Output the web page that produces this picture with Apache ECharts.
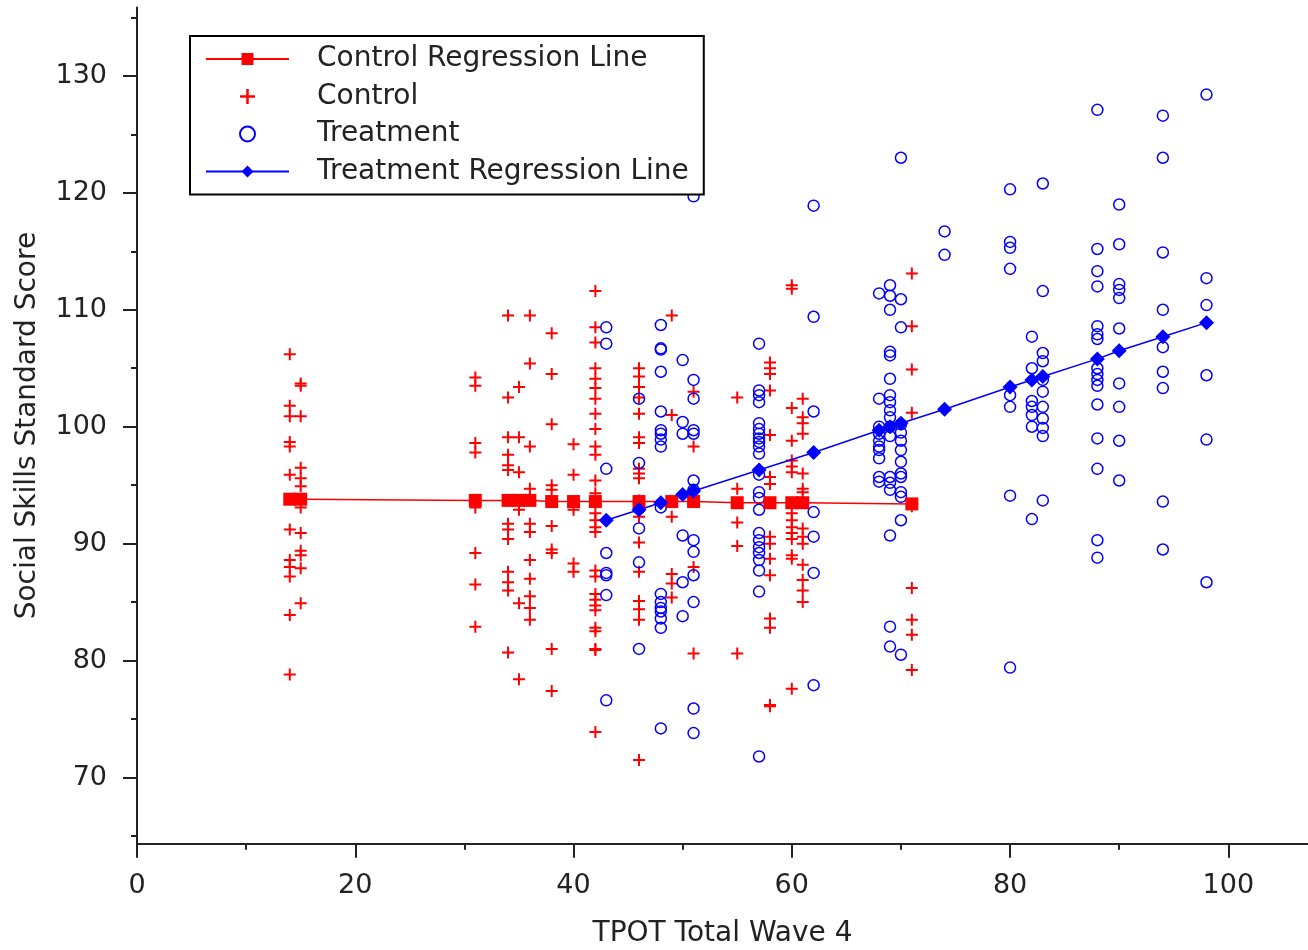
<!DOCTYPE html>
<html>
<head>
<meta charset="utf-8">
<title>Social Skills vs TPOT</title>
<script src="https://cdn.jsdelivr.net/npm/echarts@6.0.0/dist/echarts.min.js"></script>
<style>
  html, body { margin: 0; background: #fff; }
  #chart { width: 1308px; height: 950px; }
</style>
</head>
<body>
<div id="chart"></div>
<script>
// control scores, grouped by TPOT value: [x, [y...]]
const controlCols = [
  [14, [106.2, 101.8, 100.9, 98.7, 98.3, 95.9, 91.2, 88.6, 88.0, 87.2, 83.9, 78.8]],
  [15, [103.7, 103.5, 100.9, 96.5, 95.6, 94.9, 93.1, 90.9, 89.4, 89.0, 87.9, 84.9]],
  [31, [104.2, 103.5, 98.6, 97.8, 93.1, 89.2, 86.5, 82.9]],
  [34, [109.5, 102.5, 99.1, 97.6, 96.7, 96.3, 91.7, 91.2, 90.4, 87.6, 86.7, 86.0, 80.7]],
  [35, [103.4, 99.1, 96.1, 92.9, 84.9, 78.4]],
  [36, [109.5, 105.4, 98.3, 94.7, 91.7, 91.0, 88.6, 87.0, 85.5, 84.5, 83.5]],
  [38, [108.0, 104.5, 100.2, 95.0, 94.6, 91.5, 89.5, 89.2, 81.0, 77.4]],
  [40, [98.5, 95.9, 92.9, 88.3, 87.6]],
  [42, [111.6, 108.5, 107.2, 105.0, 104.1, 103.3, 102.4, 101.1, 99.8, 98.3, 97.6, 95.4, 94.3,
        92.6, 92.0, 91.4, 91.0, 87.7, 87.2, 85.7, 85.2, 84.7, 84.3, 82.8, 82.5, 81.0, 80.9, 73.9]],
  [46, [105.0, 104.3, 103.4, 102.5, 101.1, 99.1, 98.6, 96.4, 96.0, 95.6, 93.7, 92.3, 90.1,
        87.6, 85.1, 84.4, 83.5, 71.5]],
  [49, [109.5, 101.0, 92.3, 87.4, 86.6, 85.4]],
  [51, [103.0, 98.3, 88.0, 80.6]],
  [55, [102.5, 94.7, 91.8, 89.8, 80.6]],
  [58, [105.5, 105.0, 104.5, 103.1, 99.3, 95.7, 95.1, 90.6, 90.0, 88.7, 87.3, 83.6, 82.8, 76.2, 76.1]],
  [60, [112.1, 111.8, 101.6, 98.8, 97.1, 96.6, 96.1, 92.6, 92.0, 91.4, 90.9, 90.4, 89.0, 88.7, 77.6]],
  [61, [102.4, 100.8, 100.3, 99.4, 96.0, 94.7, 94.4, 91.3, 90.6, 90.0, 88.2, 86.9, 86.0, 85.0]],
  [71, [113.1, 108.6, 104.9, 101.2, 93.2, 86.2, 83.5, 82.2, 79.2]]
];

const treatmentCols = [
  [43, [108.5, 107.1, 96.4, 89.2, 87.5, 87.3, 85.6, 76.6]],
  [46, [102.4, 96.9, 93.0, 91.3, 88.4, 81.0]],
  [48, [108.7, 106.7, 106.6, 104.7, 101.3, 99.7, 99.4, 98.9, 98.3, 93.1, 85.7, 85.0, 84.5,
        84.2, 83.6, 82.8, 74.2]],
  [50, [105.7, 100.4, 99.4, 90.7, 86.7, 83.8]],
  [51, [119.7, 104.0, 102.4, 99.7, 99.4, 95.4, 94.6, 90.3, 89.3, 87.3, 85.0, 75.9, 73.8]],
  [57, [107.1, 103.1, 102.7, 102.1, 100.3, 99.8, 99.4, 99.0, 98.7, 98.3, 97.7, 95.9, 94.4,
        93.9, 92.9, 90.9, 90.3, 89.7, 89.2, 88.6, 87.7, 85.9, 71.8]],
  [62, [118.9, 109.4, 101.3, 92.7, 90.6, 87.5, 77.9]],
  [68, [111.4, 102.4, 100.0, 99.4, 98.8, 98.3, 98.0, 97.3, 95.7, 95.3]],
  [69, [112.1, 111.2, 110.0, 106.4, 106.1, 104.1, 102.7, 102.1, 101.4, 100.8, 100.0, 99.2,
        95.7, 95.2, 94.6, 90.7, 82.9, 81.2]],
  [70, [123.0, 110.9, 108.5, 100.2, 99.5, 98.8, 98.0, 97.0, 96.0, 95.7, 94.4, 94.0, 92.0, 80.5]],
  [74, [116.7, 114.7]],
  [80, [120.3, 115.8, 115.3, 113.5, 102.7, 101.7, 94.1, 79.4]],
  [82, [107.7, 105.0, 102.2, 101.7, 101.0, 100.0, 92.1]],
  [83, [120.8, 111.6, 106.3, 105.6, 104.0, 103.0, 101.7, 100.7, 99.9, 99.2, 93.7]],
  [88, [127.1, 115.2, 113.3, 112.0, 108.6, 107.9, 107.5, 105.0, 104.5, 104.0, 103.5, 101.9,
        99.0, 96.4, 90.3, 88.8]],
  [90, [119.0, 115.6, 112.2, 111.7, 111.0, 108.4, 103.7, 101.7, 98.8, 95.4]],
  [94, [126.6, 123.0, 114.9, 110.0, 106.8, 104.7, 103.3, 93.6, 89.5]],
  [98, [128.4, 112.7, 110.4, 104.4, 98.9, 86.7]]
];

// fitted values
const controlFitX = [14, 15, 31, 34, 35, 36, 38, 40, 42, 46, 49, 51, 55, 58, 60, 61, 71];
const controlFitY = [93.8, 93.8, 93.7, 93.7, 93.7, 93.7, 93.6, 93.6, 93.6, 93.6, 93.6, 93.6,
                     93.5, 93.5, 93.5, 93.5, 93.4];
const treatFitX = [43, 46, 48, 50, 51, 57, 62, 68, 69, 70, 74, 80, 82, 83, 88, 90, 94, 98];
const treatFitY = [92.0, 92.9, 93.5, 94.2, 94.5, 96.3, 97.8, 99.7, 100.0, 100.3, 101.5,
                   103.4, 104.0, 104.3, 105.8, 106.5, 107.7, 108.9];

const xMajor = [0, 20, 40, 60, 80, 100];
const xMinor = [10, 30, 50, 70, 90];
const yMajor = [70, 80, 90, 100, 110, 120, 130];
const yMinor = [65, 75, 85, 95, 105, 115, 125, 135];

const FONT = 'DejaVu Sans';
const TEXT = '#222';
const AXIS = '#222';
const RED = '#ff0000';
const BLUE = '#0000ff';
const X_MAX = 107.3, Y_MIN = 64.34, Y_MAX = 135.85;

const flatten = cols => cols.reduce((acc, [x, ys]) => acc.concat(ys.map(y => [x, y])), []);
const zip = (xs, ys) => xs.map((x, i) => [x, ys[i]]);

const plusPath = 'path://M5,0H7V5H12V7H7V12H5V7H0V5H5Z';

function majorAxis(extra) {
  return Object.assign({
    type: 'value',
    splitLine: { show: false },
    axisLine: { show: true, onZero: false, lineStyle: { color: AXIS, width: 2 } },
    nameTextStyle: { fontFamily: FONT, fontSize: 28, color: TEXT },
  }, extra);
}

function minorAxis(extra) {
  return Object.assign({
    type: 'value',
    splitLine: { show: false },
    axisLine: { show: false, onZero: false },
    axisLabel: { show: false },
  }, extra);
}

const chart = echarts.init(document.getElementById('chart'));

chart.setOption({
  animation: false,
  backgroundColor: '#fff',
  grid: { left: 137, right: 0, top: 7.5, bottom: 106.3, outerBoundsMode: 'none' },
  legend: {
    orient: 'vertical',
    left: 190,
    top: 36,
    padding: [9, 15, 9, 15],
    borderColor: '#000',
    borderWidth: 2,
    backgroundColor: '#fff',
    itemWidth: 83,
    itemHeight: 15,
    itemGap: 9.5,
    selectedMode: false,
    textStyle: { fontFamily: FONT, fontSize: 28, color: TEXT, lineHeight: 28, padding: [0, 0, 0, 23] },
    data: ['Control Regression Line', 'Control', 'Treatment', 'Treatment Regression Line'],
  },
  xAxis: [
    majorAxis({
      min: 0, max: X_MAX,
      name: 'TPOT Total Wave 4', nameLocation: 'middle', nameGap: 76,
      axisTick: { show: true, length: 14, customValues: xMajor, lineStyle: { color: AXIS, width: 2 } },
      axisLabel: { customValues: xMajor, margin: 29, fontFamily: FONT, fontSize: 27, color: TEXT },
    }),
    minorAxis({
      min: 0, max: X_MAX, position: 'bottom',
      axisTick: { show: true, length: 6, customValues: xMinor, lineStyle: { color: AXIS, width: 2 } },
    }),
  ],
  yAxis: [
    majorAxis({
      min: Y_MIN, max: Y_MAX,
      name: 'Social Skills Standard Score', nameLocation: 'middle', nameGap: 95,
      axisTick: { show: true, length: 14, customValues: yMajor, lineStyle: { color: AXIS, width: 2 } },
      axisLabel: { customValues: yMajor, margin: 30, fontFamily: FONT, fontSize: 27, color: TEXT },
    }),
    minorAxis({
      min: Y_MIN, max: Y_MAX, position: 'left',
      axisTick: { show: true, length: 6, customValues: yMinor, lineStyle: { color: AXIS, width: 2 } },
    }),
  ],
  series: [
    {
      name: 'Control Regression Line',
      type: 'line',
      data: zip(controlFitX, controlFitY),
      symbol: 'rect',
      symbolSize: 13,
      showAllSymbol: true,
      itemStyle: { color: RED },
      lineStyle: { color: RED, width: 1.5 },
      emphasis: { disabled: true },
    },
    {
      name: 'Control',
      type: 'scatter',
      data: flatten(controlCols),
      symbol: plusPath,
      symbolSize: 12,
      itemStyle: { color: RED, opacity: 1 },
      emphasis: { disabled: true },
    },
    {
      name: 'Treatment',
      type: 'scatter',
      data: flatten(treatmentCols),
      symbol: 'circle',
      symbolSize: 11,
      itemStyle: { color: 'rgba(0,0,0,0)', borderColor: BLUE, borderWidth: 1.5, opacity: 1 },
      emphasis: { disabled: true },
    },
    {
      name: 'Treatment Regression Line',
      type: 'line',
      data: zip(treatFitX, treatFitY),
      symbol: 'diamond',
      symbolSize: 15,
      showAllSymbol: true,
      itemStyle: { color: BLUE },
      lineStyle: { color: BLUE, width: 1.5 },
      emphasis: { disabled: true },
    },
  ],
});
</script>
</body>
</html>
